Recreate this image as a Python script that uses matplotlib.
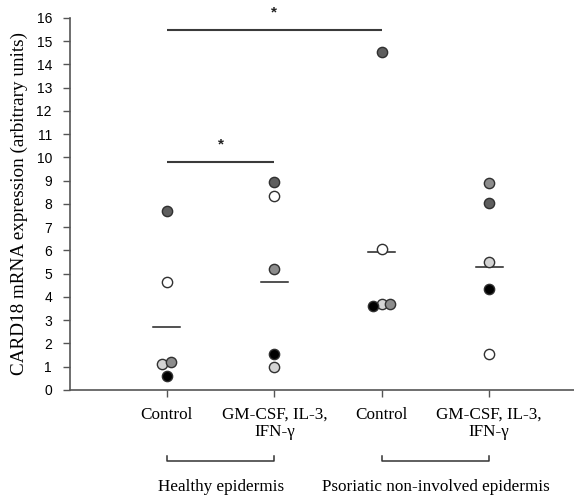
import numpy as np
import matplotlib.pyplot as plt
from matplotlib.transforms import blended_transform_factory

# Values (arbitrary units)
categories = ['Control', 'GM-CSF, IL-3,\nIFN-\u03b3', 'Control', 'GM-CSF, IL-3,\nIFN-\u03b3']
groups = ['Healthy epidermis', 'Psoriatic non-involved epidermis']

# one point per donor, donors shown by fill shade
donor_colors = ['#5e5e5e', '#ffffff', '#d4d4d4', '#8c8c8c', '#000000']
values = [
    [7.7, 4.65, 1.12, 1.2, 0.6],
    [8.95, 8.35, 1.0, 5.2, 1.55],
    [14.55, 6.05, 3.7, 3.7, 3.6],
    [8.05, 1.55, 5.5, 8.9, 4.35],
]
# small sideways shifts where points overlap
offsets = [
    [0, 0, -0.045, 0.04, 0],
    [0, 0, 0, 0, 0],
    [0, 0, 0, 0.08, -0.08],
    [0, 0, 0, 0, 0],
]
means = [2.7, 4.65, 5.95, 5.3]

sig_pairs = [(1, 3, 15.5), (1, 2, 9.8)]

plt.rcParams['font.family'] = ['Liberation Sans', 'DejaVu Sans']
serif = ['Liberation Serif', 'DejaVu Serif']

fig = plt.figure(figsize=(5.74, 4.98), dpi=100)
ax = fig.add_axes([0.122, 0.217, 0.878, 0.747])

pos = np.arange(1, len(categories) + 1)
for i, p in enumerate(pos):
    for j, v in enumerate(values[i]):
        ax.plot(p + offsets[i][j], v, 'o', ms=7.4, mfc=donor_colors[j],
                mec='#303030', mew=1.0, zorder=3)
    ax.plot([p - 0.125, p + 0.125], [means[i], means[i]], color='#222222', lw=1.1, zorder=2)

for a, b, h in sig_pairs:
    ax.plot([a, b], [h, h], color='#3a3a3a', lw=1.5, solid_capstyle='butt', clip_on=False)
    ax.text((a + b) / 2, h + 0.75, '*', ha='center', va='center', fontsize=11,
            fontweight='bold', color='#222222', clip_on=False)

ax.set_xlim(0.098, 4.79)
ax.set_ylim(0, 16)
ax.set_yticks(range(0, 17))
ax.set_xticks(pos)
ax.set_xticklabels(categories, fontfamily=serif, fontsize=12.3, linespacing=1.15)
ax.tick_params(axis='y', labelsize=10, length=5, color='#555555', width=1, pad=8)
ax.tick_params(axis='x', length=5, color='#555555', width=1, pad=7)
for s in ['top', 'right']:
    ax.spines[s].set_visible(False)
for s in ['left', 'bottom']:
    ax.spines[s].set_color('#555555')
    ax.spines[s].set_linewidth(1.2)

ax.set_ylabel('CARD18 mRNA expression (arbitrary units)', fontfamily=serif, fontsize=13.8, labelpad=6)

# group brackets below the axis
tr = blended_transform_factory(ax.transData, ax.transAxes)
for k, name in enumerate(groups):
    a, b = pos[2 * k], pos[2 * k + 1]
    ax.plot([a, a, b, b], [-0.178, -0.191, -0.191, -0.178], color='#333333', lw=1.1,
            transform=tr, clip_on=False)
    ax.text((a + b) / 2, -0.262, name, transform=tr, ha='center', va='center',
            fontfamily=serif, fontsize=12.3)

fig.savefig('out.png', dpi=100)
